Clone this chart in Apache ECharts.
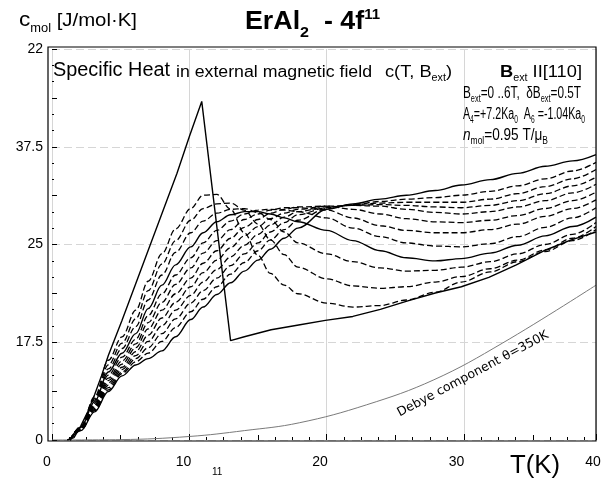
<!DOCTYPE html>
<html><head><meta charset="utf-8">
<script src="https://cdn.jsdelivr.net/npm/echarts/dist/echarts.min.js"></script>
<style>html,body{margin:0;padding:0;background:#fff}#c{width:612px;height:482px}</style>
</head><body><div id="c"></div>
<script>
// ---------- DATA ----------
const T_FIELD = [1.3, 2.1, 3.1, 4.1, 5.1, 6.1, 7.0, 8.0, 9.0, 10.1, 11.0, 12.0, 13.0, 14.0, 15.0, 15.9, 16.9, 17.9, 20.0, 21.9, 23.9, 25.8, 27.9, 29.8, 31.9, 33.9, 35.9, 37.9, 39.6];
const C_05 = [0, 1.75, 5.5, 10.2, 13.2, 16.6, 20.3, 23.8, 27.0, 29.6, 31.3, 31.4, 29.5, 26.5, 23.6, 21.3, 19.8, 18.7, 17.5, 17.0, 17.2, 17.9, 18.9, 20.2, 21.5, 22.8, 24.1, 25.5, 26.9];
const C_10 = [0, 1.7, 5.3, 9.6, 12.4, 15.5, 19.1, 22.5, 25.5, 28.1, 29.6, 30.2, 30.3, 29.4, 27.6, 25.6, 23.7, 22.1, 20.6, 19.7, 19.4, 19.6, 20.2, 20.9, 21.9, 23.0, 24.3, 25.8, 27.3];
const C_15 = [0, 1.65, 5.1, 9.1, 11.7, 14.5, 17.9, 21.1, 24.0, 26.5, 28.0, 29.0, 29.5, 29.6, 29.1, 28.2, 26.6, 25.2, 23.8, 22.8, 22.0, 21.6, 21.7, 22.1, 22.8, 23.8, 25.0, 26.3, 27.8];
const C_20 = [0, 1.6, 4.9, 8.7, 11.1, 13.6, 16.8, 19.8, 22.4, 24.7, 26.5, 27.9, 28.8, 29.2, 29.2, 28.9, 28.4, 27.9, 26.8, 25.5, 24.2, 23.3, 22.9, 23.2, 23.9, 24.9, 26.1, 27.3, 28.5];
const C_25 = [0, 1.55, 4.7, 8.3, 10.6, 12.9, 15.9, 18.7, 21.1, 23.3, 25.2, 26.8, 28.0, 28.9, 29.4, 29.5, 29.4, 29.2, 28.4, 27.1, 26.0, 25.2, 24.8, 24.7, 25.1, 26.0, 27.2, 28.4, 29.7];
const C_30 = [0, 1.5, 4.5, 7.9, 10.1, 12.3, 15.0, 17.6, 19.9, 22.0, 23.9, 25.5, 26.9, 28.2, 28.9, 29.4, 29.7, 29.7, 29.4, 28.4, 27.4, 26.8, 26.5, 26.5, 26.9, 27.6, 28.6, 29.6, 30.7];
const C_35 = [0, 1.45, 4.35, 7.6, 9.7, 11.8, 14.2, 16.6, 18.7, 20.7, 22.6, 24.2, 25.8, 27.2, 28.2, 29.0, 29.5, 29.8, 29.9, 29.5, 28.9, 28.3, 27.9, 27.8, 28.1, 28.7, 29.6, 30.6, 31.7];
const C_40 = [0, 1.4, 4.2, 7.3, 9.3, 11.3, 13.4, 15.6, 17.6, 19.6, 21.4, 23.0, 24.6, 26.1, 27.3, 28.3, 29.0, 29.5, 29.9, 30.0, 29.9, 29.5, 29.1, 28.9, 29.2, 29.8, 30.6, 31.6, 32.7];
const C_45 = [0, 1.35, 4.05, 7.0, 9.0, 10.8, 12.6, 14.6, 16.6, 18.5, 20.2, 21.8, 23.4, 24.9, 26.3, 27.5, 28.5, 29.2, 29.8, 30.0, 30.1, 30.0, 29.8, 29.7, 30.0, 30.6, 31.5, 32.5, 33.6];
const C_50 = [0, 1.3, 3.9, 6.7, 8.7, 10.4, 11.8, 13.6, 15.5, 17.5, 19.1, 20.7, 22.3, 23.8, 25.2, 26.6, 27.8, 28.8, 29.7, 30.1, 30.3, 30.4, 30.4, 30.4, 30.8, 31.5, 32.4, 33.4, 34.6];
const C_55 = [0, 1.25, 3.75, 6.4, 8.5, 10.0, 11.1, 12.6, 14.4, 16.4, 18.0, 19.6, 21.2, 22.7, 24.2, 25.6, 26.9, 28.1, 29.6, 30.1, 30.5, 30.8, 31.0, 31.3, 31.8, 32.5, 33.4, 34.4, 35.5];
const C_60 = [0, 1.2, 3.6, 6.2, 8.2, 9.6, 10.4, 11.4, 13.2, 15.4, 17.0, 18.6, 20.1, 21.6, 23.0, 24.4, 25.8, 27.1, 29.5, 30.2, 30.8, 31.3, 31.9, 32.6, 33.3, 34.1, 35.0, 35.7, 36.5];
const FIELDS = [0.5, 1, 1.5, 2, 2.5, 3, 3.5, 4, 4.5, 5, 5.5, 6];
const FIELD_CURVES = [C_05, C_10, C_15, C_20, C_25, C_30, C_35, C_40, C_45, C_50, C_55, C_60];
const SOLID_FIELDS = [2, 6];

const T_B0 = [1.1, 1.6, 2.1, 2.6, 3.1, 3.6, 4.1, 5.1, 6.1, 7.1, 8.1, 9.1, 10.0, 10.9, 13.0, 14.0, 15.95, 17.95, 19.9, 21.9, 23.9, 25.9, 27.9, 29.8, 31.8, 33.8, 35.8, 37.8, 39.6];
const C_B0 = [0, 0.3, 1.8, 3.6, 5.8, 8.2, 10.8, 15.3, 20.0, 24.7, 29.4, 34.1, 38.8, 43.3, 12.7, 13.2, 14.1, 14.7, 15.3, 15.8, 16.7, 17.8, 18.8, 19.6, 20.8, 22.4, 24.2, 25.6, 26.6];

const T_DEBYE = [0, 5, 10, 14, 18, 22.9, 27.8, 32.8, 39.6];
const C_DEBYE = [0, 0.05, 0.45, 1.2, 2.2, 4.5, 7.7, 12.4, 19.8];

const T_MAX = 39.6;                        // right frame of the plot
const X_LABELS = [0, 10, 20, 30, 40];      // printed label row
const Y_TICK_VALUES = [0, 12.5, 25, 37.5, 50];
const Y_TICK_LABELS = ['0', '17.5', '25', '37.5', '22'];

// ---------- TEXT HELPERS ----------
const FONT = '"Liberation Sans", Arial, sans-serif';
const mctx = document.createElement('canvas').getContext('2d');
function fontStr(r) {
  return (r.italic ? 'italic ' : '') + (r.bold ? 'bold ' : '') + r.size + 'px ' + (r.family || FONT);
}
function runs(list, x, baseline, opts) {
  opts = opts || {};
  let natural = 0;
  list.forEach(r => { mctx.font = fontStr(r); natural += mctx.measureText(r.t).width; });
  const sx = opts.width ? opts.width / natural : (opts.sx || 1);
  const total = natural * sx;
  let cx = opts.right ? x - total : x;
  const out = [];
  list.forEach(r => {
    mctx.font = fontStr(r);
    const w = mctx.measureText(r.t).width * sx;
    out.push({
      type: 'text', x: cx, y: baseline + (r.dy || 0) - 0.36 * r.size, scaleX: sx, silent: true, z: 100,
      style: { text: r.t, font: fontStr(r), fill: '#000', align: 'left', verticalAlign: 'middle' }
    });
    cx += w;
  });
  return out;
}

// ---------- CHART ----------
const chart = echarts.init(document.getElementById('c'), null, { renderer: 'canvas' });

const series = [];
FIELD_CURVES.forEach((arr, i) => {
  const solid = SOLID_FIELDS.indexOf(FIELDS[i]) >= 0;
  series.push({
    type: 'line', name: FIELDS[i] + 'T', xAxisIndex: 0, yAxisIndex: 0,
    data: T_FIELD.map((t, k) => [t, arr[k]]),
    showSymbol: false, smooth: 0.35, smoothMonotone: 'x',
    lineStyle: { color: '#000', width: solid ? 1.4 : 1.3, type: solid ? 'solid' : [6, 3] },
    z: 5
  });
});
series.push({
  type: 'line', name: '0T', xAxisIndex: 0, yAxisIndex: 0, data: T_B0.map((t, k) => [t, C_B0[k]]),
  showSymbol: false, smooth: false,
  lineStyle: { color: '#000', width: 1.4 }, z: 6
});
series.push({
  type: 'line', name: 'Debye', xAxisIndex: 0, yAxisIndex: 0, data: T_DEBYE.map((t, k) => [t, C_DEBYE[k]]),
  showSymbol: false, smooth: 0.4,
  lineStyle: { color: '#7a7a7a', width: 1 }, z: 4
});

const graphics = [
  { type: 'rect', shape: { x: 48, y: 47, width: 548, height: 394 }, style: { fill: 'none', stroke: '#000', lineWidth: 1.2 }, z: 50, silent: true },
  ...runs([{ t: 'c', size: 21 }, { t: 'mol', size: 12, dy: 5 }, { t: ' [J/mol·K]', size: 19 }], 19, 28, { width: 118 }),
  ...runs([{ t: 'ErAl', size: 25, bold: true }, { t: '2', size: 15, bold: true, dy: 7 }, { t: '  - 4f', size: 25, bold: true }, { t: '11', size: 14, bold: true, dy: -11 }], 245, 31, { width: 135 }),
  ...runs([{ t: 'Specific Heat', size: 20 }], 53, 78, { width: 117 }),
  ...runs([{ t: 'in external magnetic field', size: 16 }], 176, 78, { width: 196 }),
  ...runs([{ t: 'c(T, B', size: 17 }, { t: 'ext', size: 10, dy: 4 }, { t: ')', size: 17 }], 385, 78, { width: 67 }),
  ...runs([{ t: 'B', size: 17, bold: true }, { t: 'ext', size: 10, dy: 4 }, { t: ' II[110]', size: 17 }], 500, 78, { width: 82 }),
  ...runs([{ t: 'B', size: 16 }, { t: 'ext', size: 10, dy: 4 }, { t: '=0 ..6T,  δB', size: 16 }, { t: 'ext', size: 10, dy: 4 }, { t: '=0.5T', size: 16 }], 463, 99, { width: 118 }),
  ...runs([{ t: 'A', size: 16 }, { t: '4', size: 10, dy: 4 }, { t: '=+7.2Ka', size: 16 }, { t: '0', size: 10, dy: 4 }, { t: '  A', size: 16 }, { t: '6', size: 10, dy: 4 }, { t: ' =-1.04Ka', size: 16 }, { t: '0', size: 10, dy: 4 }], 463, 120, { width: 122 }),
  ...runs([{ t: 'n', size: 16, italic: true }, { t: 'mol', size: 10, dy: 4 }, { t: '=0.95 T/μ', size: 16 }, { t: 'B', size: 10, dy: 4 }], 463, 141, { width: 85 }),
  ...runs([{ t: 'T(K)', size: 26 }], 510, 475, { width: 50 }),
  ...runs([{ t: '11', size: 10 }], 212, 476),
  {
    type: 'text', x: 473, y: 374, rotation: 28 * Math.PI / 180, silent: true, z: 100,
    style: { text: 'Debye component θ=350K', font: '12.5px "DejaVu Sans", sans-serif', fill: '#000', align: 'center', verticalAlign: 'middle' }
  }
];

const tickAxis = (iv, len) => ({
  type: 'value', gridIndex: 0, min: 0, max: T_MAX, interval: iv, position: 'bottom',
  axisLine: { show: false }, axisLabel: { show: false }, splitLine: { show: false },
  axisTick: { show: true, inside: true, length: len, lineStyle: { color: '#000' } }
});

chart.setOption({
  animation: false,
  backgroundColor: '#fff',
  grid: [
    { left: 52, right: 612 - 596, top: 49, bottom: 42, containLabel: false },
    { left: 47, right: 612 - 593, top: 49, bottom: 42, containLabel: false, show: false }
  ],
  xAxis: [
    {
      type: 'value', gridIndex: 0, min: 0, max: T_MAX, interval: 10, position: 'bottom',
      axisLine: { show: false }, axisLabel: { show: false },
      axisTick: { show: true, inside: true, length: 6, lineStyle: { color: '#000' } },
      splitLine: { show: true, lineStyle: { color: '#d6d6d6', width: 1 } }
    },
    tickAxis(5, 5),
    tickAxis(1.25, 3),
    {
      type: 'value', gridIndex: 1, min: 0, max: 40, interval: 10, position: 'bottom',
      axisLine: { show: false }, axisTick: { show: false }, splitLine: { show: false },
      axisLabel: { color: '#000', fontSize: 14, margin: 15, fontFamily: FONT,
        formatter: v => X_LABELS.indexOf(v) >= 0 ? String(v) : '' }
    }
  ],
  yAxis: [
    {
      type: 'value', gridIndex: 0, min: 0, max: 50, interval: 12.5,
      axisLine: { show: false },
      axisTick: { show: true, inside: true, length: 5, lineStyle: { color: '#000' } },
      minorTick: { show: true, splitNumber: 6, length: 2, lineStyle: { color: '#000' } },
      axisLabel: { color: '#000', fontSize: 14, margin: 9, fontFamily: FONT,
        formatter: v => { const i = Y_TICK_VALUES.indexOf(v); return i >= 0 ? Y_TICK_LABELS[i] : ''; } },
      splitLine: { show: true, lineStyle: { color: '#d6d6d6', width: 1, type: [8, 4] } }
    },
    {
      type: 'value', gridIndex: 0, min: 0, max: 50, interval: 6.25, position: 'left',
      axisLine: { show: false }, axisLabel: { show: false }, splitLine: { show: false },
      axisTick: { show: true, inside: true, length: 5, lineStyle: { color: '#000' } }
    },
    {
      type: 'value', gridIndex: 1, min: 0, max: 50, show: false
    }
  ],
  series: series,
  graphic: graphics
});
</script></body></html>
